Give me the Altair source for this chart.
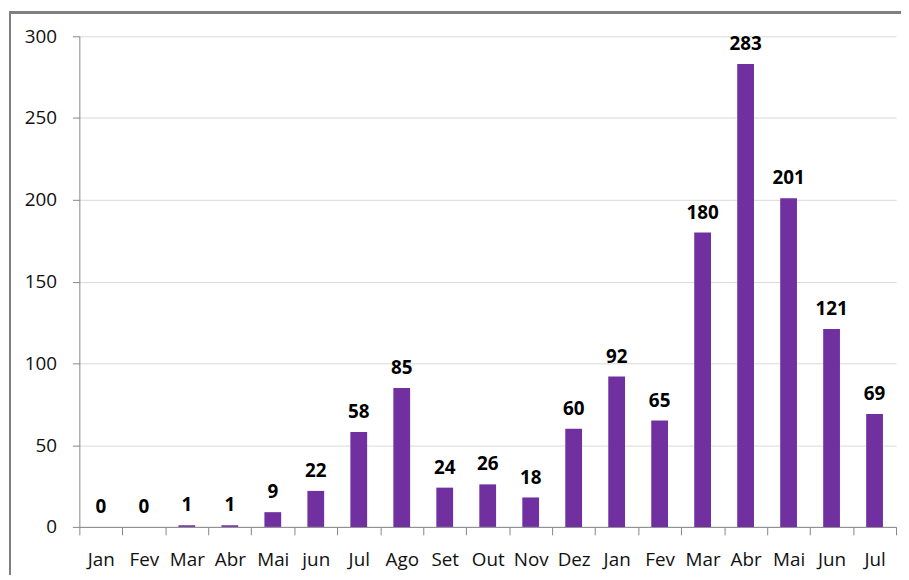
import altair as alt
import pandas as pd

months = ["Jan", "Fev", "Mar", "Abr", "Mai", "jun", "Jul", "Ago", "Set", "Out",
          "Nov", "Dez", "Jan", "Fev", "Mar", "Abr", "Mai", "Jun", "Jul"]
values = [0, 0, 1, 1, 9, 22, 58, 85, 24, 26, 18, 60, 92, 65, 180, 283, 201, 121, 69]

keys = [f"{m}|{i:02d}" for i, m in enumerate(months)]
df = pd.DataFrame({"key": keys, "value": values})

FONT = "Open Sans"
PURPLE = "#7030A0"

x = alt.X("key:N", sort=keys, title=None,
          scale=alt.Scale(paddingInner=0, paddingOuter=0),
          axis=alt.Axis(labelExpr="split(datum.label, '|')[0]", labelAngle=0,
                        tickBand="extent", tickSize=8, tickColor="#868686",
                        domainColor="#868686", labelFontSize=19, labelFont=FONT,
                        labelColor="#111", labelPadding=16, grid=False))
y = alt.Y("value:Q", title=None,
          scale=alt.Scale(domain=[0, 300], nice=False),
          axis=alt.Axis(values=[0, 50, 100, 150, 200, 250, 300], tickSize=7,
                        tickColor="#868686", domainColor="#868686",
                        gridColor="#d9d9d9", labelFontSize=19, labelFont=FONT,
                        labelColor="#111", labelPadding=16))

bars = alt.Chart(df).mark_bar(color=PURPLE, width={"band": 0.39}).encode(x=x, y=y)
labels = alt.Chart(df).mark_text(font=FONT, fontSize=19, fontWeight="bold",
                                 color="#000", baseline="alphabetic", dy=-14).encode(
    x=alt.X("key:N", sort=keys), y="value:Q", text="value:Q")

frame = alt.Chart(df).mark_rect(fill=None, stroke="#7f7f7f", strokeWidth=1.5).encode(
    x=alt.value(-70), x2=alt.value(1000), y=alt.value(-24), y2=alt.value(700))

chart = alt.layer(frame, bars, labels).properties(
    width=824, height=495,
    autosize=alt.AutoSizeParams(type="none"),
    padding={"left": 72, "top": 26, "right": 5, "bottom": 46},
).configure_view(stroke=None)

chart.save("out.html", embed_options={"renderer": "svg", "actions": False})
